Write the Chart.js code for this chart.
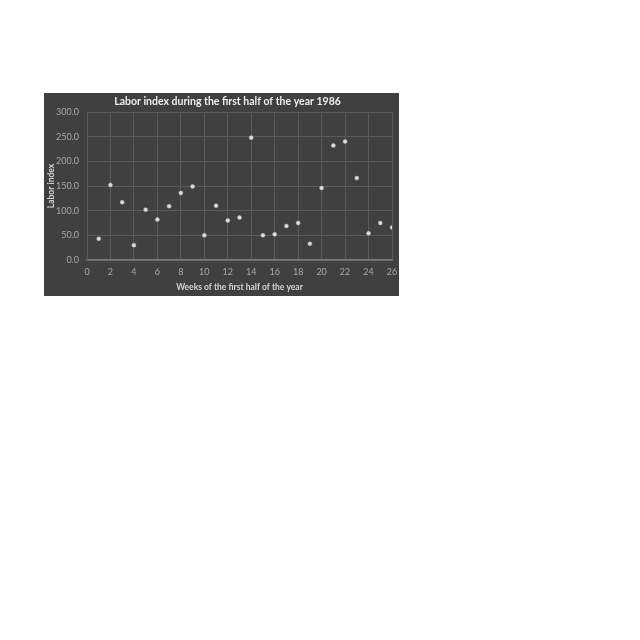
<!DOCTYPE html>
<html><head><meta charset="utf-8">
<script src="https://cdn.jsdelivr.net/npm/chart.js@4.4.1/dist/chart.umd.min.js"></script>
<style>
html,body{margin:0;padding:0;background:#fff;width:640px;height:640px;overflow:hidden}
#wrap{position:absolute;left:44px;top:93px;width:355px;height:203px;background:#404040}
</style></head><body>
<div id="wrap"><canvas id="c" width="355" height="203"></canvas></div>
<script>
const weeks = [1,2,3,4,5,6,7,8,9,10,11,12,13,14,15,16,17,18,19,20,21,22,23,24,25,26];
const laborIndex = [43,152,117,30,102,82,109,136,149,50,110,80,86,248,50,52,69,75,33,146,232,240,166,54,75,66];
const titleText = "Labor index during the first half of the year 1986";
const xTitle = "Weeks of the first half of the year";
const yTitle = "Labor index";

const FONT = "Lato";
const pts = weeks.map((w,i)=>({x:w,y:laborIndex[i]}));

const titlePlugin = {
  id:'customTitle',
  afterDraw(chart){
    const ctx = chart.ctx;
    ctx.save();
    ctx.font = "bold 10.5px Lato";
    ctx.fillStyle = '#ececec';
    ctx.textAlign = 'center';
    ctx.textBaseline = 'middle';
    ctx.fillText(titleText, 183.5, 9);
    ctx.restore();
  }
};
const noPad = s => { s.paddingLeft = 0; s.paddingRight = 0; s.paddingTop = 0; s.paddingBottom = 0; };

new Chart(document.getElementById('c'),{
  type:'scatter',
  data:{datasets:[{data:pts,pointRadius:2,pointHoverRadius:2,backgroundColor:'#dcdcdc',borderColor:'#b8b8b8',borderWidth:0.5}]},
  plugins:[titlePlugin],
  options:{
    responsive:false,animation:false,
    layout:{padding:{left:0,right:7,top:19,bottom:0}},
    plugins:{legend:{display:false},tooltip:{enabled:false},title:{display:false}},
    scales:{
      x:{type:'linear',min:0,max:26,
        afterFit:s=>{s.height=36; noPad(s);},
        ticks:{stepSize:2,color:'#a8a8a8',font:{family:FONT,size:9},padding:7},
        grid:{color:'#5a5a5a',lineWidth:1,drawTicks:false},
        border:{color:'#7a7a7a',width:1.5},
        title:{display:true,text:xTitle,color:'#d4d4d4',font:{family:FONT,size:8.5,weight:'bold'},padding:{top:0,bottom:4}}},
      y:{min:0,max:300,
        afterFit:s=>{s.width=43; noPad(s);},
        ticks:{stepSize:50,color:'#a8a8a8',font:{family:FONT,size:9},padding:8,callback:v=>v.toFixed(1)},
        grid:{color:'#5a5a5a',lineWidth:1,drawTicks:false},
        border:{color:'#5a5a5a',width:1},
        title:{display:true,text:yTitle,color:'#d4d4d4',font:{family:FONT,size:8.5,weight:'bold'},padding:{top:2,bottom:0}}}
    }
  }
});
</script></body></html>
